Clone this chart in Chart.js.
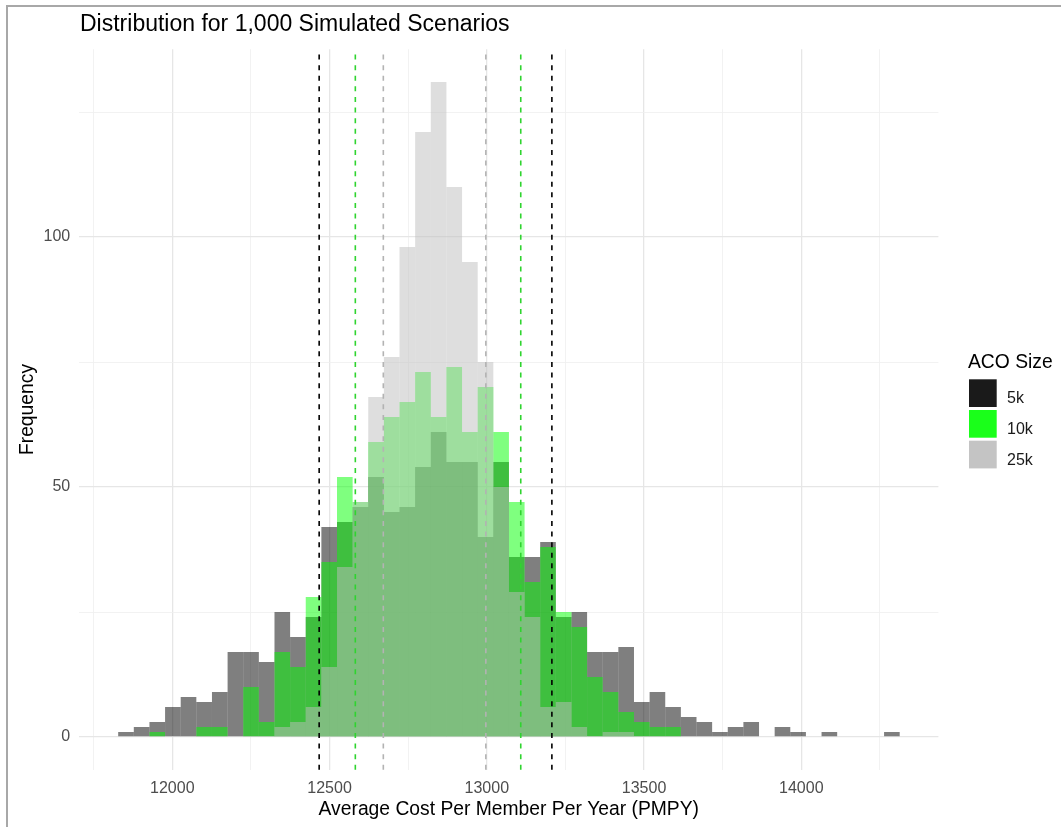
<!DOCTYPE html>
<html>
<head>
<meta charset="utf-8">
<script src="https://cdn.jsdelivr.net/npm/chart.js@4.4.0/dist/chart.umd.min.js"></script>
<style>
  html, body { margin: 0; padding: 0; background: #fff; }
</style>
</head>
<body>
<canvas id="histChart" width="1061" height="827"></canvas>
<script>
const chartTitle = 'Distribution for 1,000 Simulated Scenarios';
const xTitle = 'Average Cost Per Member Per Year (PMPY)';
const yTitle = 'Frequency';
const legendTitle = 'ACO Size';
const sizes = ['5k', '10k', '25k'];

// histogram bin centres (PMPY)
const binCenters = [
  11852.8, 11902.5, 11952.2, 12001.9, 12051.6, 12101.3, 12151.0, 12200.7, 12250.4, 12300.1,
  12349.8, 12399.5, 12449.2, 12498.9, 12548.6, 12598.3, 12648.0, 12697.7, 12747.4, 12797.1,
  12846.8, 12896.5, 12946.2, 12995.9, 13045.6, 13095.3, 13145.0, 13194.7, 13244.4, 13294.1,
  13343.8, 13393.5, 13443.2, 13492.9, 13542.6, 13592.3, 13642.0, 13691.7, 13741.4, 13791.1,
  13840.8, 13890.5, 13940.2, 13989.9, 14039.6, 14089.3, 14139.0, 14188.7, 14238.4, 14288.1
];

// counts per bin for each ACO size
const counts5k = [
  1, 2, 3, 6, 8, 7, 9, 17, 17, 15,
  25, 20, 24, 42, 43, 46, 52, 45, 46, 54,
  61, 55, 55, 40, 55, 36, 36, 39, 24, 25,
  17, 17, 18, 7, 9, 6, 4, 3, 1, 2,
  3, 0, 2, 1, 0, 1, 0, 0, 0, 1
];
const counts10k = [
  0, 0, 1, 0, 0, 2, 2, 0, 10, 3,
  17, 14, 28, 35, 52, 47, 59, 64, 67, 73,
  64, 74, 61, 70, 61, 47, 31, 38, 25, 22,
  12, 9, 5, 3, 2, 2, 0, 0, 0, 0,
  0, 0, 0, 0, 0, 0, 0, 0, 0, 0
];
const counts25k = [
  0, 0, 0, 0, 0, 0, 0, 0, 0, 0,
  2, 3, 6, 14, 34, 47, 68, 76, 98, 121,
  131, 110, 95, 75, 50, 29, 24, 6, 7, 2,
  0, 1, 1, 0, 0, 0, 0, 0, 0, 0,
  0, 0, 0, 0, 0, 0, 0, 0, 0, 0
];

// dashed reference lines (lower, upper) per ACO size
const refLines5k = [12467, 13207];
const refLines10k = [12582, 13108];
const refLines25k = [12671, 12997];

const xTicks = [11750, 12000, 12250, 12500, 12750, 13000, 13250, 13500, 13750, 14000, 14250];
const yTicks = [0, 25, 50, 75, 100, 125];

const FONT = "'Liberation Sans', Arial, sans-serif";

const frame = {
  id: 'frame',
  beforeDraw(chart) {
    const ctx = chart.ctx;
    ctx.save();
    ctx.fillStyle = '#fff';
    ctx.fillRect(0, 0, chart.width, chart.height);
    ctx.fillStyle = '#a8a8a8';
    ctx.fillRect(6, 5, chart.width - 6, 2);
    ctx.fillRect(6, 5, 2, chart.height - 5);
    ctx.restore();
  },
  afterDraw(chart) {
    const ctx = chart.ctx;
    ctx.save();
    ctx.fillStyle = '#000';
    ctx.font = '23px ' + FONT;
    ctx.textBaseline = 'alphabetic';
    ctx.fillText(chartTitle, 80, 31);
    ctx.restore();
  }
};

const refLines = {
  id: 'refLines',
  afterDatasetsDraw(chart) {
    const {ctx, chartArea, scales} = chart;
    const sets = [[refLines5k, '#000000'], [refLines10k, '#2fd42f'], [refLines25k, '#b3b3b3']];
    ctx.save();
    ctx.lineWidth = 1.6;
    ctx.setLineDash([5, 5.6]);
    sets.forEach(([vals, col]) => {
      ctx.strokeStyle = col;
      vals.forEach(v => {
        const px = scales.x.getPixelForValue(v);
        ctx.beginPath();
        ctx.moveTo(px, chartArea.bottom);
        ctx.lineTo(px, chartArea.top);
        ctx.stroke();
      });
    });
    ctx.restore();
  }
};

const sizeLegend = {
  id: 'sizeLegend',
  afterDraw(chart) {
    const ctx = chart.ctx;
    const keyColors = ['#1a1a1a', '#1aff1a', '#c4c4c4'];
    ctx.save();
    ctx.textBaseline = 'alphabetic';
    ctx.fillStyle = '#000';
    ctx.font = '19.3px ' + FONT;
    ctx.fillText(legendTitle, 968, 368);
    ctx.font = '16px ' + FONT;
    sizes.forEach((s, i) => {
      const top = 379.3 + i * 30.7;
      ctx.fillStyle = keyColors[i];
      ctx.fillRect(969, top, 27.7, 27.7);
      ctx.fillStyle = '#1a1a1a';
      ctx.fillText(s, 1007, top + 23.8);
    });
    ctx.restore();
  }
};

const gridColor = (step) => (c) => (c.tick && c.tick.value % step === 0) ? '#e6e6e6' : '#efefef';
const gridWidth = (step) => (c) => (c.tick && c.tick.value % step === 0) ? 1.3 : 0.8;

new Chart(document.getElementById('histChart'), {
  type: 'bar',
  data: {
    datasets: [
      { label: sizes[0], data: binCenters.map((x, i) => ({x, y: counts5k[i]})), backgroundColor: 'rgba(0,0,0,0.5)', order: 3 },
      { label: sizes[1], data: binCenters.map((x, i) => ({x, y: counts10k[i]})), backgroundColor: 'rgba(0,255,0,0.5)', order: 2 },
      { label: sizes[2], data: binCenters.map((x, i) => ({x, y: counts25k[i]})), backgroundColor: 'rgba(190,190,190,0.5)', order: 1 }
    ]
  },
  options: {
    responsive: false,
    devicePixelRatio: 1,
    animation: false,
    layout: { padding: { top: 49.25, right: 122.6, bottom: 0, left: 0 } },
    datasets: {
      bar: { barPercentage: 1, categoryPercentage: 1, grouped: false, inflateAmount: 0, borderWidth: 0 }
    },
    plugins: {
      legend: { display: false },
      tooltip: { enabled: false },
      title: { display: false }
    },
    scales: {
      x: {
        type: 'linear',
        offset: false,
        min: 11704,
        max: 14436,
        afterBuildTicks: s => { s.ticks = xTicks.map(v => ({value: v})); },
        afterFit: s => { s.height = 57.25; },
        grid: { offset: false, color: gridColor(500), lineWidth: gridWidth(500), drawTicks: false },
        border: { display: false },
        ticks: {
          autoSkip: false, maxRotation: 0, padding: 9, color: '#4d4d4d',
          font: { family: FONT, size: 16 },
          callback: v => v % 500 === 0 ? String(v) : ''
        },
        title: { display: true, text: xTitle, color: '#000', font: { family: FONT, size: 19.3 }, padding: { top: 0, bottom: 5.4 } }
      },
      y: {
        min: -6.55,
        max: 137.55,
        afterBuildTicks: s => { s.ticks = yTicks.map(v => ({value: v})); },
        afterFit: s => { s.width = 79.2; },
        grid: { color: gridColor(50), lineWidth: gridWidth(50), drawTicks: false },
        border: { display: false },
        ticks: {
          padding: 9, color: '#4d4d4d',
          font: { family: FONT, size: 16 },
          callback: v => v % 50 === 0 ? String(v) : ''
        },
        title: { display: true, text: yTitle, color: '#000', font: { family: FONT, size: 19.3 }, padding: { top: 16, bottom: 0 } }
      }
    }
  },
  plugins: [frame, refLines, sizeLegend]
});
</script>
</body>
</html>
